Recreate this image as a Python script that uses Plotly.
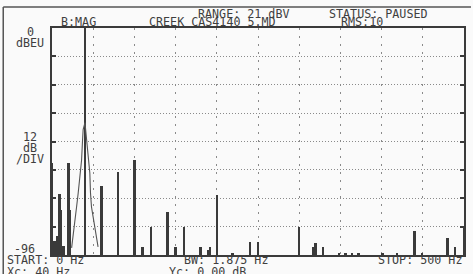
import plotly.graph_objects as go

# ---- data (frequency in Hz, level in dB) ----
peak_freqs = [0, 3, 6, 9, 11, 14, 20, 22, 40, 60, 80, 100, 110, 120, 140, 150, 160,
              180, 189, 192, 200, 219, 240, 250, 300, 317, 320, 329, 348, 356, 364,
              372, 401, 419, 440, 449, 480, 489, 500]
peak_levels = [-57, -90, -88, -70, -77, -92, -57, -77, 0, -67, -61, -56, -92.5, -84, -78,
               -92.5, -84, -92.5, -94, -92.5, -70.6, -95, -90.7, -90.5, -84.2, -92.5,
               -91, -92.5, -95, -95, -95, -95, -95, -95, -86, -95, -89, -92.5, -84]

skirt_freqs = [23.8, 25.7, 27.8, 29.8, 31.8, 33.8, 35.9, 37.1, 37.8, 40.0,
               41.9, 43.8, 45.9, 46.7, 47.9, 49.9, 51.9, 53.9, 55.9]
skirt_levels = [-93, -86.7, -81.2, -75.7, -69.8, -64.2, -55.8, -47.3, -43, -40,
                -47.3, -54.5, -61.3, -69.7, -75.6, -79.9, -84, -86.7, -92.6]

x_range = [0, 500]
y_range = [-96, 0]
x_grid_step = 50
y_grid_step = 12

# ---- layout geometry (pixels) ----
W, H = 473, 274
L, R, T, B = 52, 466, 28, 255


def px(x, y):
    """pixel -> paper coordinates"""
    return (x - L) / (R - L), (B - y) / (B - T)


INK = "#3a3a3a"
FONT = dict(family="DejaVu Sans Mono", size=11.7, color="#3f3f3f")

fig = go.Figure()

fig.add_trace(go.Scatter(
    x=skirt_freqs, y=skirt_levels, mode="lines",
    line=dict(color="#555555", width=1.1), hoverinfo="skip", showlegend=False))

fig.add_trace(go.Bar(
    x=peak_freqs, y=[lv - y_range[0] for lv in peak_levels], base=y_range[0],
    width=3.0, marker=dict(color=INK, line=dict(width=0)),
    showlegend=False, hoverinfo="skip"))

annots = [
    ("B:MAG", 59, 22, "left"),
    ("CREEK CAS4140 5.MD", 147, 22, "left"),
    ("RANGE: 21 dBV", 197, 14, "left"),
    ("STATUS: PAUSED", 328, 14, "left"),
    ("RMS:10", 340, 22, "left"),
    ("0", 30, 32, "center"),
    ("dBEU", 30, 43, "center"),
    ("12", 30, 137, "center"),
    ("dB", 30, 148, "center"),
    ("/DIV", 30, 159, "center"),
    ("-96", 12, 249, "left"),
    ("START: 0 Hz", 5, 260, "left"),
    ("BW: 1.875 Hz", 183, 260, "left"),
    ("STOP: 500 Hz", 378, 260, "left"),
    ("Xc: 40 Hz", 5, 272, "left"),
    ("Yc: 0.00 dB", 168, 272, "left"),
]
for text, x, y, anchor in annots:
    xp, yp = px(x, y)
    fig.add_annotation(text=text, x=xp, y=yp, xref="paper", yref="paper",
                       xanchor=anchor, yanchor="middle", showarrow=False, font=FONT)

# outer frame (left and top edges of the scanned screen)
x0, y0 = px(3, 7)
x1, _ = px(473, 7)
_, y1 = px(3, 274)
fig.add_shape(type="line", xref="paper", yref="paper", x0=x0, y0=y0, x1=x1, y1=y0,
              line=dict(color="#555555", width=1.5))
fig.add_shape(type="line", xref="paper", yref="paper", x0=x0, y0=y0, x1=x0, y1=y1,
              line=dict(color="#555555", width=1.5))

fig.update_layout(
    width=W, height=H,
    margin=dict(l=L, r=W - R, t=T, b=H - B, pad=0),
    paper_bgcolor="#fafafa", plot_bgcolor="#fafafa",
    bargap=0, showlegend=False,
    xaxis=dict(range=x_range, dtick=x_grid_step, tick0=0, showticklabels=False,
               ticks="", showgrid=True, gridcolor="#8a8a8a", gridwidth=1,
               griddash="2px,6px", zeroline=False, showline=True, linecolor=INK,
               linewidth=1.6, mirror=True, fixedrange=True),
    yaxis=dict(range=y_range, dtick=y_grid_step, tick0=0, showticklabels=False,
               ticks="inside", ticklen=4, tickwidth=1.5, tickcolor=INK,
               showgrid=True, gridcolor="#8a8a8a", gridwidth=1, griddash="1px,2px",
               zeroline=False, showline=True, linecolor=INK, linewidth=1.6,
               mirror="ticks", fixedrange=True),
)

fig.write_html(
    "out.html",
    config={"displayModeBar": False, "responsive": False},
    post_script="document.body.style.margin='0';document.body.style.overflow='hidden';",
)
